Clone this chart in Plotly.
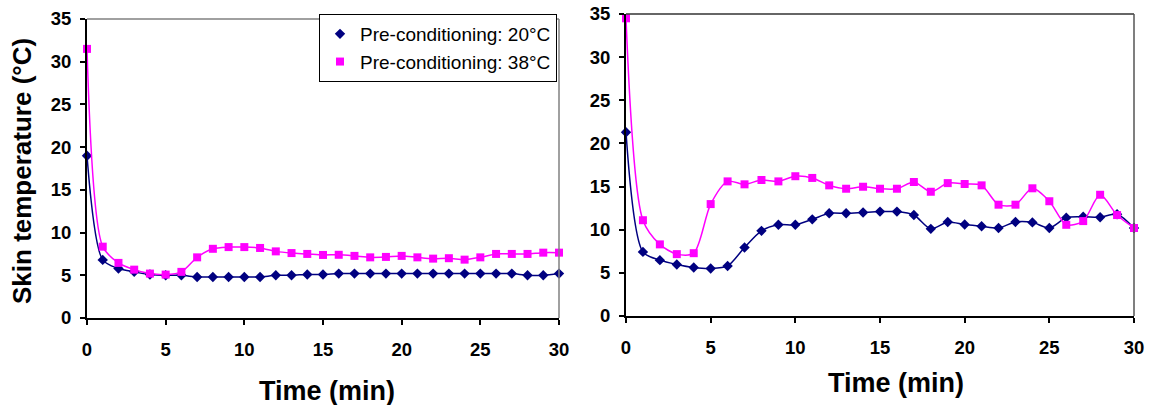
import plotly.graph_objects as go

time_min = list(range(0, 31))

left_20 = [19.0, 6.8, 5.8, 5.4, 5.1, 5.0, 5.0, 4.8, 4.8, 4.8, 4.8, 4.8, 5.0, 5.0, 5.1,
           5.1, 5.2, 5.2, 5.2, 5.2, 5.2, 5.2, 5.2, 5.2, 5.2, 5.2, 5.2, 5.2, 5.0, 5.0, 5.2]
left_38 = [31.5, 8.35, 6.45, 5.66, 5.2, 5.08, 5.4, 7.1, 8.1, 8.3, 8.3, 8.2, 7.8, 7.6, 7.5,
           7.38, 7.4, 7.27, 7.1, 7.15, 7.27, 7.1, 6.95, 7.0, 6.83, 7.1, 7.5, 7.5, 7.5, 7.65, 7.65]

right_20 = [21.3, 7.43, 6.47, 5.97, 5.62, 5.5, 5.8, 7.94, 9.87, 10.57, 10.57, 11.2, 11.9, 11.9, 12.0,
            12.1, 12.1, 11.7, 10.1, 10.9, 10.6, 10.4, 10.2, 10.9, 10.85, 10.2, 11.4, 11.5, 11.45, 11.8, 10.2]
right_38 = [34.5, 11.1, 8.3, 7.17, 7.28, 12.97, 15.6, 15.26, 15.76, 15.6, 16.2, 16.0, 15.14, 14.75, 14.98,
            14.75, 14.75, 15.53, 14.4, 15.4, 15.3, 15.14, 12.9, 12.9, 14.8, 13.3, 10.57, 11.0, 14.05, 11.7, 10.2]

series_names = ["Pre-conditioning: 20°C", "Pre-conditioning: 38°C"]
x_ticks = [0, 5, 10, 15, 20, 25, 30]
y_ticks = [0, 5, 10, 15, 20, 25, 30, 35]

NAVY = "#000080"
MAGENTA = "#FF00FF"
FONT = "Liberation Sans, Arial, sans-serif"

W, H = 1150, 405

def px(x):
    return x / W

def py(y):
    return 1 - y / H

fig = go.Figure()

def add_series(xa, ya, yvals, color, symbol, msize):
    fig.add_trace(go.Scatter(
        x=time_min, y=yvals, xaxis=xa, yaxis=ya, mode="lines+markers",
        line=dict(color=color, width=1.5, shape="spline", smoothing=0.8),
        marker=dict(color=color, symbol=symbol, size=msize),
        showlegend=False, cliponaxis=False, hoverinfo="x+y"))

add_series("x", "y", left_20, NAVY, "diamond", 8)
add_series("x", "y", left_38, MAGENTA, "square", 8)
add_series("x2", "y2", right_20, NAVY, "diamond", 8)
add_series("x2", "y2", right_38, MAGENTA, "square", 8)

# legend-only entries (markers only, as in the reference legend)
fig.add_trace(go.Scatter(x=[None], y=[None], mode="markers", name=series_names[0],
                         marker=dict(color=NAVY, symbol="diamond", size=8),
                         legendgroup="a", showlegend=True))
fig.add_trace(go.Scatter(x=[None], y=[None], mode="markers", name=series_names[1],
                         marker=dict(color=MAGENTA, symbol="square", size=8),
                         legendgroup="b", showlegend=True))

L1 = dict(x0=87, x1=559, y0=19, y1=318)
R1 = dict(x0=626, x1=1134, y0=14, y1=316)

def xdom(r):
    return [px(r["x0"]), px(r["x1"])]

def ydom(r):
    return [py(r["y1"]), py(r["y0"])]

tickfont = dict(family=FONT, size=18.5, color="black", weight="bold")
common_x = dict(range=[0, 30], tickvals=x_ticks, showgrid=False, zeroline=False,
                showline=True, linecolor="black", linewidth=2, ticks="outside",
                ticklen=5, tickwidth=1.5, tickcolor="black", tickfont=tickfont,
                ticklabelstandoff=9, automargin=False, ticklabeloverflow="allow")
common_y = dict(range=[0, 35], tickvals=y_ticks, showgrid=False, zeroline=False,
                showline=True, linecolor="black", linewidth=2, ticks="outside",
                ticklen=5, tickwidth=1.5, tickcolor="black", tickfont=tickfont,
                ticklabelstandoff=5, automargin=False, ticklabeloverflow="allow")

fig.update_layout(
    width=W, height=H,
    margin=dict(l=0, r=0, t=0, b=0, autoexpand=False),
    paper_bgcolor="white", plot_bgcolor="white",
    font=dict(family=FONT, color="black"),
    xaxis=dict(domain=xdom(L1), anchor="y", **common_x),
    yaxis=dict(domain=ydom(L1), anchor="x", **common_y),
    xaxis2=dict(domain=xdom(R1), anchor="y2", **common_x),
    yaxis2=dict(domain=ydom(R1), anchor="x2", **common_y),
    legend=dict(x=px(319), y=py(14), xanchor="left", yanchor="top",
                bordercolor="black", borderwidth=1, bgcolor="white",
                font=dict(family=FONT, size=19, color="black"),
                tracegroupgap=0, itemwidth=30),
    showlegend=True,
)

# plot area borders (top/right)
fig.add_shape(type="line", xref="x domain", yref="y domain", x0=0, x1=1, y0=1, y1=1,
              line=dict(color="#808080", width=1.5))
fig.add_shape(type="line", xref="x domain", yref="y domain", x0=1, x1=1, y0=0, y1=1,
              line=dict(color="#808080", width=1.5))
fig.add_shape(type="line", xref="x2 domain", yref="y2 domain", x0=0, x1=1, y0=1, y1=1,
              line=dict(color="#333333", width=1.5))
fig.add_shape(type="line", xref="x2 domain", yref="y2 domain", x0=1, x1=1, y0=0, y1=1,
              line=dict(color="#555555", width=1.5))

fig.add_annotation(text="<b>Skin temperature (°C)</b>", xref="paper", yref="paper",
                   x=px(22), y=py(171), textangle=-90, showarrow=False,
                   font=dict(family=FONT, size=26, color="black"),
                   xanchor="center", yanchor="middle")
xt_font = dict(family=FONT, size=27, color="black")
fig.add_annotation(text="<b>Time (min)</b>", xref="paper", yref="paper",
                   x=px(327), y=py(391), showarrow=False, font=xt_font,
                   xanchor="center", yanchor="middle", borderpad=0)
fig.add_annotation(text="<b>Time (min)</b>", xref="paper", yref="paper",
                   x=px(896), y=py(383), showarrow=False, font=xt_font,
                   xanchor="center", yanchor="middle", borderpad=0)

fig.write_html("out.html",
               config={"displayModeBar": False},
               post_script="document.body.style.margin='0';document.body.style.overflow='hidden';")
